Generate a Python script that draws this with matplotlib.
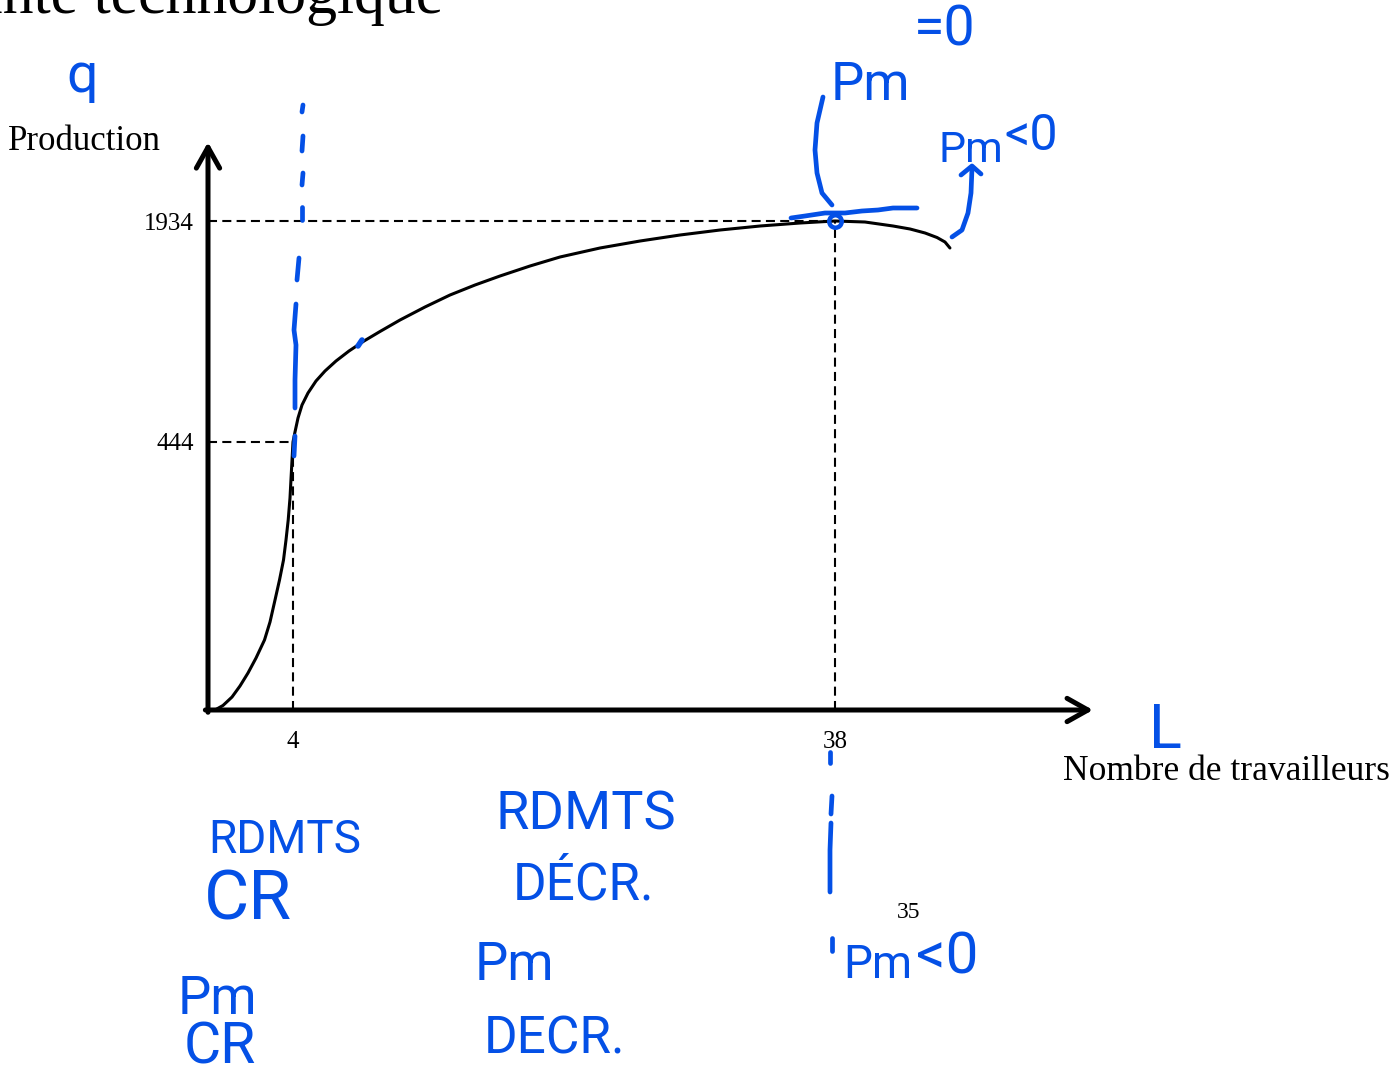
import numpy as np
import matplotlib
matplotlib.use("Agg")
import matplotlib.pyplot as plt
from matplotlib.lines import Line2D
from matplotlib.transforms import Affine2D

# ---- data -------------------------------------------------------------
labor = [0, 0.410, 0.872, 1.282, 1.692, 2.103, 2.538, 2.821, 3.077, 3.308,
         3.513, 3.641, 3.754, 3.846, 3.903, 4, 4.125, 4.314, 4.565, 4.941,
         5.443, 6.008, 6.698, 7.513, 8.454, 9.458, 10.713, 12.281, 13.85,
         15.418, 16.986, 18.868, 20.75, 23.26, 25.77, 28.28, 30.79, 33.30,
         35.81, 38, 39.88, 41.64, 42.71, 43.65, 44.40, 44.90, 45.21]
output = [0, 7.5, 21.5, 39.8, 61.3, 86.1, 116, 145.8, 182.2, 215.4,
          248.5, 281.6, 314.8, 351.2, 386, 444, 511.4, 605.8, 693.5, 774.4,
          855.3, 922.7, 990.1, 1057.5, 1124.9, 1189, 1266.5, 1354.2, 1435.1,
          1502.5, 1563.2, 1630.6, 1691.3, 1752, 1799.1, 1839.6, 1873.3, 1900.3,
          1920.5, 1934, 1927.2, 1900.3, 1880, 1853.1, 1822.7, 1792.4, 1752]
x_marks = [4, 38]
y_marks = [444, 1934]
x_tick_labels = ["4", "38"]
y_tick_labels = ["444", "1934"]

W, H = 1394, 1079
BLUE = "#0450E6"
SERIF = ["Liberation Serif", "DejaVu Serif"]
HAND = ["Roboto", "DejaVu Sans"]

plt.rcParams["lines.scale_dashes"] = False

fig = plt.figure(figsize=(W / 100, H / 100), dpi=100)
fig.patch.set_facecolor("white")

# schematic axes: piecewise-linear scales (not drawn to proportion)
def piecewise(a_in, a_out):
    a_in = np.asarray(a_in, float)
    a_out = np.asarray(a_out, float)
    s_lo = (a_out[1] - a_out[0]) / (a_in[1] - a_in[0])
    s_hi = (a_out[-1] - a_out[-2]) / (a_in[-1] - a_in[-2])

    def fwd(v):
        v = np.asarray(v, float)
        out = np.interp(v, a_in, a_out)
        out = np.where(v < a_in[0], a_out[0] + (v - a_in[0]) * s_lo, out)
        out = np.where(v > a_in[-1], a_out[-1] + (v - a_in[-1]) * s_hi, out)
        return out

    def inv(u):
        u = np.asarray(u, float)
        out = np.interp(u, a_out, a_in)
        out = np.where(u < a_out[0], a_in[0] + (u - a_out[0]) / s_lo, out)
        out = np.where(u > a_out[-1], a_in[-1] + (u - a_out[-1]) / s_hi, out)
        return out

    return fwd, inv

x_fwd, x_inv = piecewise([0] + x_marks, [7, 85, 627])
y_fwd, y_inv = piecewise([0] + y_marks, [0, 268, 489])

ax = fig.add_axes([208 / W, (H - 710) / H, 885 / W, 565 / H])
ax.set_xscale("function", functions=(x_fwd, x_inv))
ax.set_yscale("function", functions=(y_fwd, y_inv))
ax.set_xlim(float(x_inv(0)), float(x_inv(885)))
ax.set_ylim(0, float(y_inv(565)))
for s in ax.spines.values():
    s.set_visible(False)
ax.patch.set_alpha(0)

ax.set_xticks(x_marks, x_tick_labels)
ax.set_yticks(y_marks, y_tick_labels)
ax.tick_params(axis="both", length=0)
ax.tick_params(axis="x", pad=15)
ax.tick_params(axis="y", pad=10)
for lab in ax.get_xticklabels() + ax.get_yticklabels():
    lab.set_fontfamily(SERIF)
    lab.set_fontsize(18)

ax.set_ylabel("Production", rotation=0, fontfamily=SERIF, fontsize=25,
              ha="left", va="center")
ax.yaxis.set_label_coords((8 - 208) / 885, (710 - 142) / 565)
ax.set_xlabel("Nombre de travailleurs", fontfamily=SERIF, fontsize=25.5,
              ha="left", va="center")
ax.xaxis.set_label_coords((1063 - 208) / 885, (710 - 772) / 565)

# guide lines to the marked points
dash = dict(color="black", lw=1.5, linestyle=(0, (6.5, 3.8)))
x0 = ax.get_xlim()[0]
for xm, ym in zip(x_marks, y_marks):
    ax.plot([x0, xm], [ym, ym], **dash)
    ax.plot([xm, xm], [0, ym], **dash)

# production curve
ax.plot(labor, output, color="black", lw=2.2, solid_joinstyle="round",
        solid_capstyle="round")

# axes with arrow heads
arrow = dict(arrowstyle="->,head_length=0.75,head_width=0.42", lw=3.6,
             color="black", shrinkA=0, shrinkB=0, mutation_scale=20)
ax.annotate("", xy=(0, 1.005), xytext=(0, -0.004), xycoords="axes fraction",
            arrowprops=arrow)
ax.annotate("", xy=(1, 0), xytext=(-0.003, 0), xycoords="axes fraction",
            arrowprops=arrow)

# slide title, partly above the visible area
fig.text(443 / W, 1 - 13 / H, "La contrainte technologique", fontfamily=SERIF,
         fontsize=44.5, ha="right", va="baseline")
fig.text(909 / W, 1 - 913 / H, "35", fontfamily=SERIF, fontsize=17,
         ha="center", va="center")

# ---- handwritten annotations (pixel coordinates, origin top-left) -----
PX = Affine2D().scale(1 / W, -1 / H).translate(0, 1) + fig.transFigure

def ink(xs, ys, lw=3.4):
    fig.add_artist(Line2D(xs, ys, transform=PX, color=BLUE, lw=lw,
                          solid_capstyle="round", solid_joinstyle="round"))

def note(x, y, s, size):
    fig.text(x, y, s, transform=PX, color=BLUE, fontfamily=HAND,
             fontsize=size, ha="left", va="baseline")

# dashed vertical stroke through the inflection point
for seg in [([303, 302], [105, 112]), ([303, 302], [136, 151]),
            ([303, 302], [173, 185]), ([302, 302], [207, 220]),
            ([299, 297], [258, 280]),
            ([296, 294, 296, 295, 295], [304, 330, 345, 380, 408]),
            ([295, 294], [436, 456])]:
    ink(*seg)
ink([358, 362], [346, 340], lw=4)

# dashed vertical stroke below x = 38
for seg in [([830, 830], [752, 763]), ([832, 831], [796, 814]),
            ([831, 830, 830], [823, 850, 892]), ([832, 832], [938, 951])]:
    ink(*seg)

# tangent at the maximum
ink([791, 805, 825, 845, 862, 878, 893, 905, 917],
    [218, 216, 213, 213, 211, 210, 208, 208, 208])
ax.plot([38], [1934], marker="o", ms=9, mfc="none", mec=BLUE, mew=3.2)
# curved stroke from the label down to the maximum
ink([823, 817, 815, 817, 822, 832], [97, 123, 150, 173, 193, 205])
# arrow from the falling branch up to its label
ink([952, 962, 968, 971, 972], [237, 230, 213, 193, 168])
ink([961, 972, 981], [175, 166, 174])

note(66, 92, "q", 40)
note(1149, 748, "L", 44)
note(208, 853, "RDMTS", 33)
note(204, 920, "CR", 50)
note(178, 1014, "Pm", 38)
note(184, 1063, "CR", 41)
note(496, 830, "RDMTS", 39)
note(513, 900, "DÉCR.", 37)
note(475, 980, "Pm", 38)
note(484, 1054, "DECR.", 37)
note(831, 100, "Pm", 38)
note(914, 45, "=0", 40)
note(938, 162, "Pm", 31)
note(1004, 150, "<0", 36)
note(843, 978, "Pm", 33)
note(916, 974, "<0", 42)

fig.savefig("out.png", dpi=100, facecolor="white")
